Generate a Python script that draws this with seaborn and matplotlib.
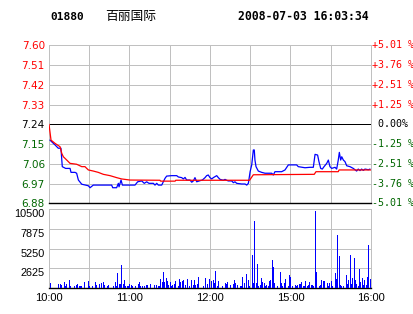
import matplotlib
matplotlib.use("Agg")
import matplotlib.pyplot as plt
import matplotlib.transforms as mtransforms
import seaborn as sns

# ---------------- data ----------------
stock_code = "01880"
stock_name = "百丽国际"
timestamp = "2008-07-03 16:03:34"
prev_close = 7.24

# minutes since 10:00 (10:00-12:30, 14:30-16:00 => 0..240)
price_min = [0.7, 4.5, 6.9, 8.9, 9.9, 12.4, 15.7, 16.4, 19.4, 20.6, 21.9, 24.4, 29.3, 30.6, 33.0,
             46.7, 47.5, 50.4, 51.7, 52.2, 53.7, 54.7, 60.4, 64.1, 66.1, 69.1, 71.0, 72.8, 74.5,
             77.8, 79.0, 80.3, 81.5, 84.0, 85.2, 86.5, 87.7, 91.5, 95.2, 96.4, 98.9, 100.1, 101.4,
             102.6, 105.1, 106.4, 107.6, 108.8, 110.1, 112.5, 114.3, 116.3, 117.5, 118.7, 120.0,
             121.3, 122.5, 125.0, 126.2, 127.5, 129.9, 131.2, 132.4, 133.6, 136.2, 137.4, 138.6,
             139.9, 143.6, 146.1, 147.4, 148.6, 149.9, 151.1, 152.3, 153.0, 153.5, 154.3, 156.0,
             158.5, 161.0, 166.0, 167.2, 168.4, 173.4, 175.9, 178.4, 179.6, 184.6, 185.8, 190.8,
             194.5, 197.0, 198.3, 200.2, 201.2, 202.5, 203.7, 205.0, 207.0, 208.2, 209.4, 210.7,
             213.2, 214.4, 215.6, 216.4, 217.4, 218.2, 219.4, 220.6, 221.9, 224.3, 226.8, 229.3,
             230.5, 231.8, 233.0, 234.3, 235.5, 238.0, 239.3]
price_val = [7.168, 7.146, 7.131, 7.131, 7.047, 7.039, 7.039, 7.021, 7.021, 7.017, 6.986, 6.967,
             6.960, 6.951, 6.963, 6.963, 6.951, 6.951, 6.971, 6.955, 6.986, 6.963, 6.963, 6.963,
             6.978, 6.982, 6.971, 6.978, 6.971, 6.971, 6.963, 6.971, 6.963, 6.963, 6.978, 6.994,
             7.004, 7.006, 7.006, 7.000, 6.997, 6.991, 6.998, 6.986, 6.986, 6.976, 6.982, 6.997,
             6.978, 6.983, 6.986, 6.997, 7.006, 7.009, 6.997, 6.991, 6.997, 7.006, 6.997, 6.989,
             6.985, 6.989, 6.985, 6.982, 6.982, 6.974, 6.978, 6.971, 6.968, 6.968, 6.963, 6.971,
             7.024, 7.055, 7.123, 7.123, 7.077, 7.047, 7.027, 7.021, 7.017, 7.017, 7.009, 7.024,
             7.024, 7.032, 7.055, 7.055, 7.055, 7.047, 7.042, 7.044, 7.044, 7.103, 7.100, 7.070,
             7.039, 7.036, 7.047, 7.062, 7.077, 7.047, 7.039, 7.044, 7.036, 7.077, 7.112, 7.077,
             7.092, 7.077, 7.070, 7.051, 7.047, 7.039, 7.027, 7.036, 7.029, 7.036, 7.030, 7.036,
             7.033, 7.036]

avg_min = [0, 1.5, 4.5, 8.2, 9.5, 10.7, 11.9, 15.7, 20.6, 24.4, 26.8, 29.3, 33.0, 36.7, 40.5,
           45.5, 50.4, 54.1, 60.4, 82.7, 83.2, 94.0, 94.5, 149.5, 152.3, 197.7, 199.0, 215.6,
           216.2, 240]
avg_val = [7.240, 7.168, 7.153, 7.138, 7.108, 7.092, 7.085, 7.062, 7.058, 7.047, 7.047, 7.032,
           7.027, 7.021, 7.012, 7.006, 6.997, 6.991, 6.986, 6.985, 6.981, 6.981, 6.985, 6.985,
           7.010, 7.012, 7.024, 7.024, 7.032, 7.032]

vol_min = [1, 7, 8, 9, 11, 12, 13, 15, 16, 19, 20, 21, 22, 23, 24, 26, 29, 30, 32, 34, 35, 37, 39,
           40, 41, 43, 44, 48, 49, 50, 51, 52, 53, 54, 55, 56, 57, 58, 59, 60, 61, 62, 64, 66, 67,
           68, 69, 71, 72, 73, 75, 78, 80, 81, 82, 83, 84, 85, 86, 87, 88, 89, 90, 91, 92, 93, 94,
           96, 97, 98, 99, 100, 101, 103, 104, 106, 107, 108, 109, 110, 111,
           115, 116, 118, 119, 121, 122, 123, 124, 125, 126, 129, 131, 132, 133, 135, 137, 138,
           139, 140, 142, 143, 144, 145, 147, 148, 149, 151, 152, 153, 154, 155, 156, 157, 158,
           159, 160, 161, 162, 163, 164, 165, 166, 167, 168, 170, 172, 173, 174, 175, 176, 178,
           179, 180, 181, 183, 184, 185, 186, 187, 188, 189, 190, 191, 192, 193, 194, 195, 196,
           197, 198, 199, 201, 202, 203, 204, 205, 207, 208, 209, 210, 211, 213, 214, 215, 216,
           217, 218, 219, 221, 222, 223, 224, 225, 226, 227, 228, 229, 230, 231, 232, 233, 234,
           235, 236, 237, 238, 239, 240]
vol_val = [665, 530, 530, 440, 800, 265, 530, 1060, 265, 350, 440, 530, 350, 265, 265, 800, 975,
           265, 265, 800, 440, 530, 710, 800, 440, 350, 440, 350, 800, 350, 2040, 530, 530, 3100,
           530, 1110, 265, 265, 265, 530, 440, 265, 265, 530, 800, 265, 265, 265, 440, 440, 530,
           440, 440, 265, 265, 1240, 885, 2215, 800, 1330, 975, 440, 885, 265, 440, 620, 975,
           265, 1240, 800, 975, 1110, 440, 1240, 265, 1110, 440, 1110, 440, 530, 1500,
           310, 1330, 575, 1200, 1020, 1110, 665, 2300, 310, 1020, 310, 755, 575, 840, 440, 575,
           1110, 755, 440, 310, 310, 1460, 665, 1905, 1110, 310, 4430, 755, 8950, 755, 3235, 310,
           440, 1330, 840, 665, 310, 440, 310, 930, 1110, 3765, 2790, 665, 310, 2170, 665, 310,
           755, 1240, 310, 1770, 1550, 310, 440, 310, 440, 575, 575, 885, 310, 310, 975, 310, 440,
           885, 440, 440, 310, 10280, 2170, 310, 440, 1110, 1020, 930, 665, 310, 665, 975, 310,
           2080, 1240, 7090, 4300, 440, 310, 310, 1770, 575, 1110, 4430, 575, 1330, 3990, 1110,
           575, 310, 2570, 885, 1330, 440, 1110, 440, 1550, 5670, 1200, 665]

price_ticks = [7.60, 7.51, 7.42, 7.33, 7.24, 7.15, 7.06, 6.97, 6.88]
price_labels = ["7.60", "7.51", "7.42", "7.33", "7.24", "7.15", "7.06", "6.97", "6.88"]
pct_labels = ["+5.01 %", "+3.76 %", "+2.51 %", "+1.25 %", " 0.00%",
              "-1.25 %", "-2.51 %", "-3.76 %", "-5.01 %"]
vol_ticks = [10500, 7875, 5250, 2625]
vol_labels = ["10500", "7875", "5250", "2625"]
time_ticks = [0, 60, 120, 180, 240]
time_labels = ["10:00", "11:00", "12:00", "15:00", "16:00"]
grid_minutes = [0, 30, 60, 90, 120, 150, 180, 210, 240]

# ---------------- style ----------------
sns.set_theme(style="white")
plt.rcParams['font.family'] = ['DejaVu Sans']

RED = "#FF0000"
GREEN = "#006600"
BLUE = "#0000FF"
GREY = "#C0C0C0"
PX = 0.72  # one pixel at 100 dpi, in points

W, H = 414, 314
fig = plt.figure(figsize=(W / 100, H / 100), dpi=100)
fig.patch.set_facecolor("white")

ax1 = fig.add_axes([49 / W, (H - 203.3) / H, 322 / W, 158 / H])
ax2 = fig.add_axes([49 / W, (H - 288.3) / H, 322 / W, 79.3 / H])

# ---------------- price panel ----------------
ax1.set_xlim(0, 240)
ax1.set_ylim(6.88, 7.60)
for t in grid_minutes:
    ax1.axvline(t, color=GREY, lw=PX, zorder=1, antialiased=False)
for p in price_ticks:
    ax1.axhline(p, color=GREY, lw=PX, zorder=1, antialiased=False)
ax1.axhline(prev_close, color="black", lw=PX, zorder=2, antialiased=False)

sns.lineplot(x=price_min, y=price_val, ax=ax1, color=BLUE, lw=0.9,
             estimator=None, sort=False, zorder=3)
sns.lineplot(x=avg_min, y=avg_val, ax=ax1, color=RED, lw=0.9,
             estimator=None, sort=False, zorder=4)

for s in ["left", "top", "right"]:
    ax1.spines[s].set_color(GREY)
    ax1.spines[s].set_linewidth(PX)
ax1.spines["bottom"].set_color("black")
ax1.spines["bottom"].set_linewidth(1.0)
ax1.set_xticks([])
ax1.set_yticks(price_ticks)
ax1.set_yticklabels(price_labels, fontsize=7.5, family="DejaVu Sans")
ax1.tick_params(axis="y", length=0, pad=3)
for lab, p in zip(ax1.get_yticklabels(), price_ticks):
    if p > prev_close + 1e-9:
        lab.set_color(RED)
    elif p < prev_close - 1e-9:
        lab.set_color(GREEN)
    else:
        lab.set_color("black")
ax1.set_xlabel("")
ax1.set_ylabel("")

trans = mtransforms.blended_transform_factory(ax1.transAxes, ax1.transData)
for p, lab in zip(price_ticks, pct_labels):
    c = RED if p > prev_close + 1e-9 else (GREEN if p < prev_close - 1e-9 else "black")
    ax1.text(1.0 + 1.0 / 322, p, lab, transform=trans, ha="left", va="center",
             family="DejaVu Sans Mono", fontsize=7.2, color=c, clip_on=False)

# ---------------- volume panel ----------------
ax2.set_xlim(0, 240)
ax2.set_ylim(0, 10500)
for t in grid_minutes:
    ax2.axvline(t, color=GREY, lw=PX, zorder=1, antialiased=False)
for v in vol_ticks:
    ax2.axhline(v, color=GREY, lw=PX, zorder=1, antialiased=False)
ax2.vlines(vol_min, 0, vol_val, color=BLUE, lw=PX, zorder=3, antialiased=False)

for s in ["left", "top", "right"]:
    ax2.spines[s].set_color(GREY)
    ax2.spines[s].set_linewidth(PX)
ax2.spines["bottom"].set_color("black")
ax2.spines["bottom"].set_linewidth(1.0)

ax2.set_yticks(vol_ticks)
ax2.set_yticklabels(vol_labels, fontsize=7.8, family="Liberation Sans", color="black")
for lab in ax2.get_yticklabels():
    lab.set_va("top")
ax2.tick_params(axis="y", length=0, pad=3)
ax2.set_xticks(time_ticks)
ax2.set_xticklabels(time_labels, fontsize=8, family="Liberation Sans", color="black")
ax2.tick_params(axis="x", length=0, pad=3.5)

# ---------------- header ----------------
fig.text(50 / W, 1 - 16.7 / H, stock_code, ha="left", va="center",
         family="DejaVu Sans Mono", weight="bold", fontsize=8.1, color="black")
fig.text(105 / W, 1 - 16.7 / H, stock_name, ha="left", va="center",
         family=["Noto Sans CJK SC", "DejaVu Sans"], fontsize=9.2, color="black")
fig.text(237.7 / W, 1 - 16.7 / H, timestamp, ha="left", va="center",
         family="DejaVu Sans Mono", weight="bold", fontsize=8.3, color="black")

fig.savefig("out.png", dpi=100, facecolor="white")
